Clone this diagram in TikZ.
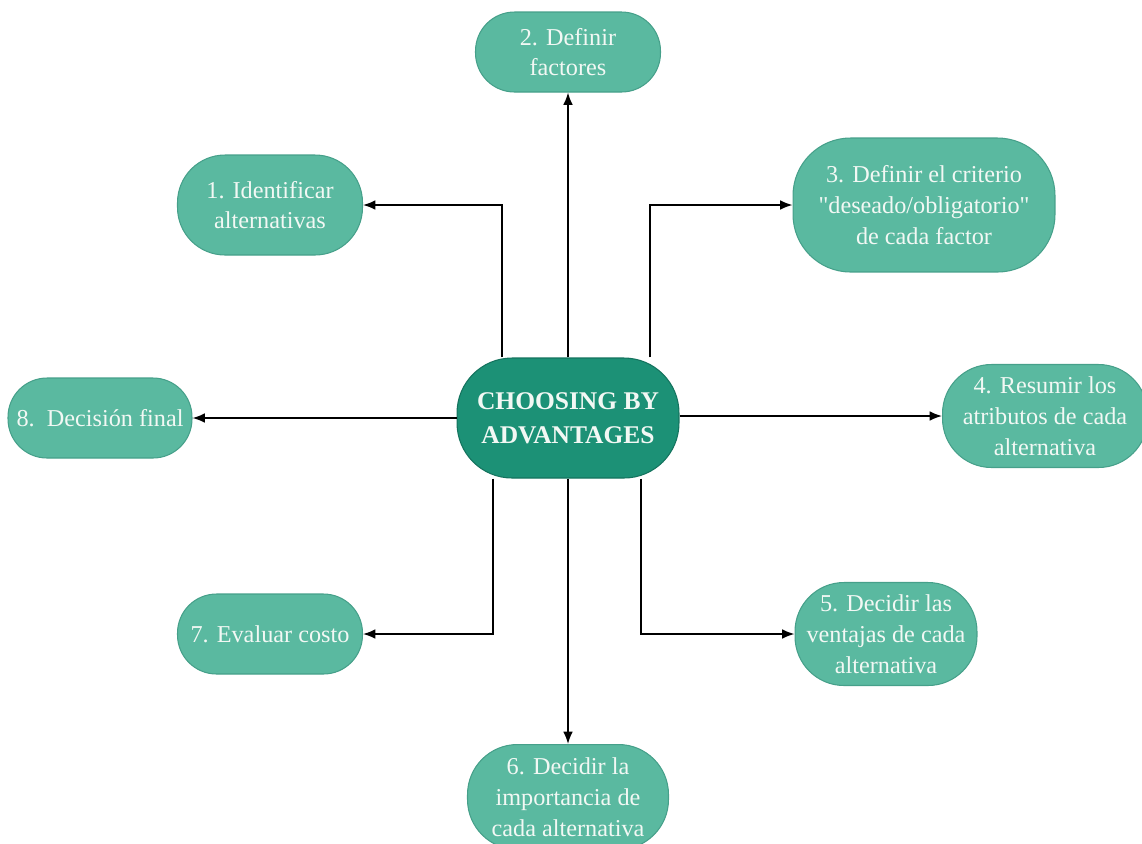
\documentclass[tikz,border=0pt]{standalone}
\usepackage{fontspec}
\setmainfont{Liberation Serif}[Ligatures=TeXOff]
\usetikzlibrary{arrows.meta}
\definecolor{boxfill}{RGB}{90,185,160}
\definecolor{boxedge}{RGB}{70,160,138}
\definecolor{centerfill}{RGB}{28,145,118}
\definecolor{centeredge}{RGB}{20,115,94}
\definecolor{txt}{RGB}{242,248,244}
\begin{document}
\begin{tikzpicture}[x=0.02cm,y=-0.02cm,
  stepbox/.style={draw=boxedge, line width=0.6pt, fill=boxfill, rounded corners=0.78cm,
    text=txt, align=center, font=\fontsize{13.8}{17.5}\selectfont, inner sep=0pt},
  hub/.style={draw=centeredge, line width=0.6pt, fill=centerfill, rounded corners=1.1cm,
    text=txt, align=center, font=\fontsize{14.5}{19.5}\selectfont\bfseries, inner sep=0pt},
  conn/.style={line width=0.9pt, -{Latex[length=7pt,width=5.5pt]}}]
\useasboundingbox (0,0) rectangle (1142,843);
\node[hub, minimum width=4.44cm, minimum height=2.4cm] (c) at (568,418) {CHOOSING BY\\ADVANTAGES};
\node[stepbox, minimum width=3.7cm, minimum height=1.6cm] (n2) at (568,52) {2. Definir\\factores};
\node[stepbox, minimum width=3.7cm, minimum height=2.0cm, rounded corners=0.95cm] (n1) at (270,205) {1. Identificar\\alternativas};
\node[stepbox, minimum width=5.24cm, minimum height=2.68cm, rounded corners=1.15cm] (n3) at (924,205) {3. Definir el criterio\\"deseado/obligatorio"\\de cada factor};
\node[stepbox, minimum width=3.68cm, minimum height=1.6cm] (n8) at (100,418) {8.\ \ Decisión final};
\node[stepbox, minimum width=4.1cm, minimum height=2.06cm, rounded corners=0.98cm] (n4) at (1045,416) {4. Resumir los\\atributos de cada\\alternativa};
\node[stepbox, minimum width=3.7cm, minimum height=1.6cm] (n7) at (270,634) {7. Evaluar costo};
\node[stepbox, minimum width=3.64cm, minimum height=2.06cm, rounded corners=0.98cm] (n5) at (886,634) {5. Decidir las\\ventajas de cada\\alternativa};
\node[stepbox, minimum width=4.02cm, minimum height=2.1cm, rounded corners=1.0cm] (n6) at (568,797) {6. Decidir la\\importancia de\\cada alternativa};
% connectors
\draw[conn] (c.north) -- (n2.south);
\draw[conn] (c.north -| 502,0) |- (n1.east);
\draw[conn] (c.north -| 650,0) |- (n3.west);
\draw[conn] (c.west) -- (n8.east);
\draw[conn] (c.east |- 0,416) -- (n4.west);
\draw[conn] (c.south -| 493,0) |- (n7.east);
\draw[conn] (c.south -| 641,0) |- (n5.west);
\draw[conn] (c.south) -- (n6.north);
\end{tikzpicture}
\end{document}
